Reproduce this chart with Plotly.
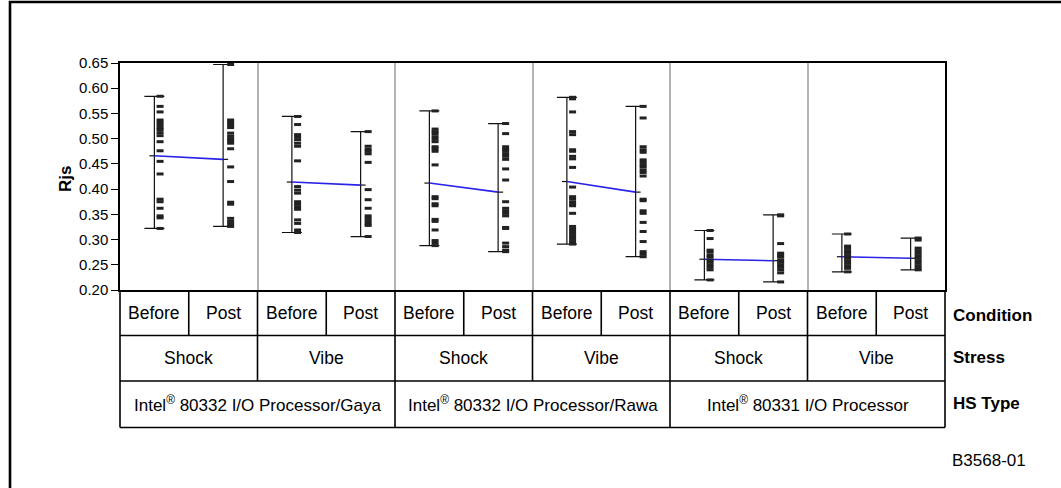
import plotly.graph_objects as go

# ---------------- data ----------------
conditions = ["Before", "Post"]
stresses = ["Shock", "Vibe"]
hs_types = ["Intel<sup>®</sup> 80332 I/O Processor/Gaya",
            "Intel<sup>®</sup> 80332 I/O Processor/Rawa",
            "Intel<sup>®</sup> 80331 I/O Processor"]
row_labels = ["Condition", "Stress", "HS Type"]
y_ticks = [0.20, 0.25, 0.30, 0.35, 0.40, 0.45, 0.50, 0.55, 0.60, 0.65]

gaya_shock_before = [0.584, 0.564, 0.553, 0.537, 0.532, 0.527, 0.522, 0.518, 0.512, 0.506,
                     0.494, 0.476, 0.455, 0.430, 0.380, 0.375, 0.362, 0.347, 0.343, 0.322]
gaya_shock_post = [0.647, 0.537, 0.532, 0.527, 0.522, 0.511, 0.505, 0.500, 0.496, 0.491,
                   0.480, 0.444, 0.415, 0.374, 0.370, 0.342, 0.336, 0.331, 0.326]
gaya_vibe_before = [0.544, 0.528, 0.508, 0.503, 0.498, 0.491, 0.485, 0.456, 0.405, 0.398,
                    0.392, 0.375, 0.370, 0.365, 0.360, 0.339, 0.332, 0.319, 0.314]
gaya_vibe_post = [0.514, 0.485, 0.479, 0.475, 0.470, 0.453, 0.399, 0.379, 0.362, 0.347,
                  0.342, 0.337, 0.332, 0.328, 0.306]
rawa_shock_before = [0.555, 0.519, 0.514, 0.510, 0.504, 0.499, 0.494, 0.484, 0.480, 0.475,
                     0.448, 0.385, 0.381, 0.371, 0.367, 0.340, 0.336, 0.319, 0.298, 0.293, 0.288]
rawa_shock_post = [0.530, 0.510, 0.484, 0.479, 0.475, 0.470, 0.465, 0.459, 0.440, 0.418,
                   0.375, 0.362, 0.357, 0.352, 0.347, 0.324, 0.322, 0.293, 0.286, 0.279, 0.276]
rawa_vibe_before = [0.582, 0.579, 0.553, 0.514, 0.508, 0.478, 0.475, 0.465, 0.460, 0.443,
                    0.404, 0.385, 0.381, 0.375, 0.371, 0.367, 0.352, 0.326, 0.321, 0.316,
                    0.311, 0.306, 0.301, 0.296, 0.291]
rawa_vibe_post = [0.564, 0.541, 0.484, 0.478, 0.473, 0.458, 0.453, 0.448, 0.444, 0.438,
                  0.433, 0.426, 0.380, 0.377, 0.357, 0.352, 0.334, 0.316, 0.296, 0.276,
                  0.271, 0.266]
p80331_shock_before = [0.318, 0.302, 0.279, 0.275, 0.269, 0.265, 0.259, 0.255, 0.250, 0.245,
                       0.240, 0.220]
p80331_shock_post = [0.349, 0.347, 0.292, 0.273, 0.269, 0.265, 0.259, 0.255, 0.250, 0.245,
                     0.240, 0.234, 0.216]
p80331_vibe_before = [0.311, 0.287, 0.283, 0.278, 0.273, 0.268, 0.263, 0.258, 0.253, 0.248,
                      0.243, 0.236]
p80331_vibe_post = [0.303, 0.299, 0.283, 0.278, 0.273, 0.268, 0.263, 0.258, 0.253, 0.248,
                    0.243, 0.240]

columns = [gaya_shock_before, gaya_shock_post, gaya_vibe_before, gaya_vibe_post,
           rawa_shock_before, rawa_shock_post, rawa_vibe_before, rawa_vibe_post,
           p80331_shock_before, p80331_shock_post, p80331_vibe_before, p80331_vibe_post]
column_means = [0.466, 0.459, 0.414, 0.408, 0.412, 0.394, 0.415, 0.394,
                0.261, 0.258, 0.266, 0.263]

# ---------------- figure ----------------
FONT = "Liberation Sans, Arial, sans-serif"
W, H = 1061, 488
ML, MR, MT, MB = 120, 116, 63, 198
plot_w = W - ML - MR
plot_h = H - MT - MB
n_cols = len(columns)
px_x = n_cols / plot_w          # data units per pixel in x

fig = go.Figure()

centers = [i + 0.5 for i in range(n_cols)]

# range bars (min..max) with caps
fig.add_trace(go.Scatter(
    x=centers, y=column_means, mode="markers",
    marker=dict(size=1, color="rgba(0,0,0,0)"),
    error_y=dict(type="data", symmetric=False,
                 array=[max(c) - m for c, m in zip(columns, column_means)],
                 arrayminus=[m - min(c) for c, m in zip(columns, column_means)],
                 color="#111111", thickness=1.2, width=10),
    hoverinfo="skip", showlegend=False))

# mean lines between Before and Post of each group
mx, my = [], []
for g in range(n_cols // 2):
    mx += [centers[2 * g], centers[2 * g + 1], None]
    my += [column_means[2 * g], column_means[2 * g + 1], None]
fig.add_trace(go.Scatter(x=mx, y=my, mode="lines",
                         line=dict(color="#2a22e6", width=1.6),
                         hoverinfo="skip", showlegend=False))

# short black mean ticks
tx, ty = [], []
for i, (c, m) in enumerate(zip(centers, column_means)):
    if i % 2 == 0:
        tx += [c - 5 * px_x, c, None]
    else:
        tx += [c, c + 5 * px_x, None]
    ty += [m, m, None]
fig.add_trace(go.Scatter(x=tx, y=ty, mode="lines",
                         line=dict(color="#111111", width=1.2),
                         hoverinfo="skip", showlegend=False))

# data points
for i, col in enumerate(columns):
    off = (5.7 if i % 2 == 0 else 7.5) * px_x
    fig.add_trace(go.Scatter(
        x=[centers[i] + off] * len(col), y=col, mode="markers",
        marker=dict(symbol="line-ew", size=5, color="#222222",
                    line=dict(color="#222222", width=3)),
        hoverinfo="y", showlegend=False))

# ---------------- table below the plot ----------------
shapes = []
def py(ypx):  # pixel row -> paper y
    return (H - MB - ypx) / plot_h
def pxx(xpx):
    return (xpx - ML) / plot_w

r0, r1, r2, r3 = py(290), py(335.5), py(381), py(427.5)
line_k = dict(color="#000000", width=1.6)
for yy in (r1, r2, r3):
    shapes.append(dict(type="line", xref="paper", yref="paper", x0=0, x1=1, y0=yy, y1=yy, line=line_k))
shapes.append(dict(type="line", xref="paper", yref="paper", x0=0, x1=0, y0=r0, y1=r3, line=line_k))
shapes.append(dict(type="line", xref="paper", yref="paper", x0=1, x1=1, y0=r0, y1=r3, line=line_k))
for i in range(1, n_cols):
    shapes.append(dict(type="line", xref="paper", yref="paper", x0=i / n_cols, x1=i / n_cols,
                       y0=r0, y1=r1, line=line_k))
for i in range(2, n_cols, 2):
    shapes.append(dict(type="line", xref="paper", yref="paper", x0=i / n_cols, x1=i / n_cols,
                       y0=r1, y1=r2, line=line_k))
for i in range(4, n_cols, 4):
    shapes.append(dict(type="line", xref="paper", yref="paper", x0=i / n_cols, x1=i / n_cols,
                       y0=r2, y1=r3, line=line_k))

# outer frame of the figure
shapes.append(dict(type="rect", xref="paper", yref="paper",
                   x0=pxx(10), x1=pxx(W + 20), y0=py(H + 20), y1=py(2),
                   line=dict(color="#000000", width=2.6), layer="below"))

annotations = []
cell_font = dict(family=FONT, size=17.5, color="#000000")
hs_font = dict(family=FONT, size=17, color="#000000")
def note(x, y, text, font, **kw):
    d = dict(xref="paper", yref="paper", x=x, y=y, text=text, showarrow=False,
             font=font, xanchor="center", yanchor="middle")
    d.update(kw)
    annotations.append(d)

for i in range(n_cols):
    note((i + 0.5) / n_cols, (r0 + r1) / 2, conditions[i % 2], cell_font)
for g in range(n_cols // 2):
    note((2 * g + 1) / n_cols, (r1 + r2) / 2, stresses[g % 2], cell_font)
for h_i, name in enumerate(hs_types):
    note((4 * h_i + 2) / n_cols, (r2 + r3) / 2, name, hs_font)
label_font = dict(family=FONT, size=17, color="#000000", weight="bold")
for lab, yy in zip(row_labels, (py(315), py(357.5), py(403))):
    note(pxx(951), yy, lab, label_font, xanchor="left")
note(pxx(950), py(460), "B3568-01", dict(family=FONT, size=17, color="#000000"), xanchor="left")
note(pxx(65), py(179), "Rjs", dict(family=FONT, size=17, color="#000000", weight="bold"),
     textangle=-90)

fig.update_layout(
    width=W, height=H,
    margin=dict(l=ML, r=MR, t=MT, b=MB, pad=0),
    paper_bgcolor="white", plot_bgcolor="white",
    shapes=shapes, annotations=annotations,
    xaxis=dict(range=[0, n_cols], tickvals=list(range(2, n_cols, 2)), showticklabels=False,
               ticks="", showgrid=True, gridcolor="#b4b4b4", gridwidth=1.5,
               showline=True, mirror=True, linecolor="#000000", linewidth=1.8,
               zeroline=False, fixedrange=True),
    yaxis=dict(range=[0.20, 0.65], tickvals=y_ticks, tickformat=".2f",
               ticks="outside", ticklen=7, tickwidth=1.2, tickcolor="#000000",
               tickfont=dict(family=FONT, size=15, color="#000000"),
               showgrid=False, showline=True, mirror=True, linecolor="#000000",
               linewidth=1.5, zeroline=False, fixedrange=True),
    showlegend=False,
)

fig.write_html("out.html", config={"displayModeBar": False},
               post_script="document.body.style.margin='0px';document.body.style.overflow='hidden';")
